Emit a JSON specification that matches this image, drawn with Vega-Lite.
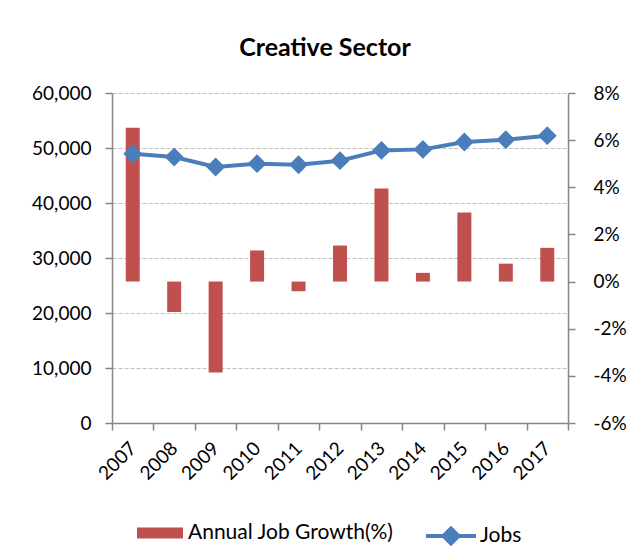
{
  "$schema": "https://vega.github.io/schema/vega-lite/v6.json",
  "width": 456,
  "height": 330,
  "autosize": {"type": "none"},
  "padding": {"left": 112, "top": 93, "right": 59, "bottom": 134},
  "background": "white",
  "title": {"text": "Creative Sector", "font": "Lato", "fontSize": 25, "fontWeight": "bold", "color": "black", "offset": 23, "anchor": "middle", "dx": -15},
  "config": {
    "view": {"stroke": null},
    "axis": {"labelFont": "Lato", "labelFontSize": 19, "labelColor": "black", "domainColor": "#868686", "tickColor": "#868686", "tickSize": 7, "title": null, "domainWidth": 1.5, "tickWidth": 1.5},
    "legend": {"labelFont": "Lato", "labelFontSize": 21, "labelColor": "black", "labelLimit": 400}
  },
  "data": {"values": [
    {"year": "2007", "jobs": 48960, "growth": 6.53},
    {"year": "2008", "jobs": 48360, "growth": -1.29},
    {"year": "2009", "jobs": 46550, "growth": -3.86},
    {"year": "2010", "jobs": 47150, "growth": 1.32},
    {"year": "2011", "jobs": 46960, "growth": -0.41},
    {"year": "2012", "jobs": 47690, "growth": 1.53},
    {"year": "2013", "jobs": 49560, "growth": 3.95},
    {"year": "2014", "jobs": 49750, "growth": 0.37},
    {"year": "2015", "jobs": 51090, "growth": 2.93},
    {"year": "2016", "jobs": 51510, "growth": 0.76},
    {"year": "2017", "jobs": 52240, "growth": 1.43}
  ]},
  "layer": [
    {
      "mark": {"type": "bar", "width": 14},
      "encoding": {
        "x": {"field": "year", "type": "ordinal", "scale": {"type": "band", "paddingInner": 0, "paddingOuter": 0},
              "axis": {"labelAngle": -45, "labelAlign": "right", "labelBaseline": "middle", "tickBand": "extent", "labelPadding": 15}},
        "y": {"field": "growth", "type": "quantitative", "scale": {"domain": [-6, 8], "nice": false, "zero": false},
              "axis": {"orient": "right", "values": [-6, -4, -2, 0, 2, 4, 6, 8], "labelExpr": "datum.value + '%'", "grid": false, "labelPadding": 18}},
        "fill": {"datum": "Annual Job Growth(%)", "type": "nominal", "scale": {"range": ["#C0504D"]},
                 "legend": {"title": null, "orient": "bottom", "symbolType": "M-1,-0.24L1,-0.24L1,0.24L-1,0.24Z", "symbolSize": 2116, "labelOffset": 4, "offset": 25, "padding": 0, "symbolOffset": 24}}
      }
    },
    {
      "mark": {"type": "line", "strokeWidth": 4, "point": {"filled": true, "shape": "diamond", "size": 256}},
      "encoding": {
        "x": {"field": "year", "type": "ordinal"},
        "y": {"field": "jobs", "type": "quantitative", "scale": {"domain": [0, 60000], "nice": false},
              "axis": {"orient": "left", "values": [0, 10000, 20000, 30000, 40000, 50000, 60000], "format": ",.0f", "grid": true, "gridColor": "#BFBFBF", "gridDash": [4, 2], "gridWidth": 1.2, "labelPadding": 14}},
        "stroke": {"datum": "Jobs", "type": "nominal", "scale": {"range": ["#4A7EBB"]},
                   "legend": {"title": null, "orient": "bottom", "symbolType": "M-1,0L1,0M-0.3,0L0,-0.3L0.3,0L0,0.3Z", "symbolSize": 2500, "symbolStrokeWidth": 4, "symbolFillColor": "#4A7EBB", "labelOffset": 2, "offset": 25, "padding": 0, "symbolOffset": 22}},
        "color": {"value": "#4A7EBB"}
      }
    }
  ],
  "resolve": {"scale": {"y": "independent"}}
}
